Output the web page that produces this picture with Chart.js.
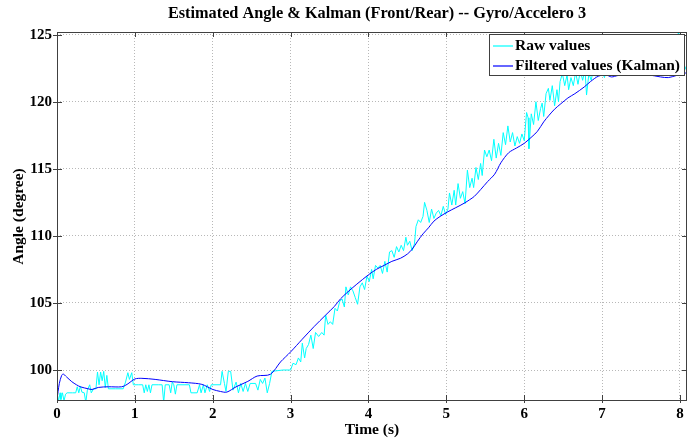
<!DOCTYPE html>
<html>
<head>
<meta charset="utf-8">
<script src="https://cdn.jsdelivr.net/npm/chart.js@4.4.0/dist/chart.umd.min.js"></script>
<style>
html,body{margin:0;padding:0;background:#fff;}
</style>
</head>
<body>
<canvas id="canvas" width="688" height="441"></canvas>
<script>
// valores (tempo em s, angulo em graus)
var rawTime = [0.00,0.02,0.04,0.05,0.07,0.09,0.11,0.13,0.20,0.24,0.26,0.28,0.30,0.32,0.35,0.37,0.39,0.42,0.44,0.47,
  0.50,0.52,0.54,0.56,0.58,0.60,0.62,0.64,0.66,0.75,0.85,0.88,0.91,0.93,0.96,0.98,1.05,1.10,1.12,1.14,
  1.16,1.18,1.20,1.22,1.30,1.35,1.37,1.39,1.44,1.46,1.48,1.50,1.52,1.54,1.70,1.72,1.80,1.83,1.85,1.88,
  1.90,1.93,1.96,1.98,2.10,2.12,2.15,2.17,2.20,2.23,2.26,2.30,2.33,2.36,2.39,2.42,2.45,2.48,2.55,2.58,
  2.61,2.64,2.67,2.70,2.73,2.76,2.90,3.00,3.03,3.07,3.10,3.13,3.15,3.18,3.20,3.23,3.26,3.29,3.32,3.36,
  3.40,3.43,3.45,3.48,3.51,3.54,3.57,3.60,3.63,3.66,3.69,3.71,3.74,3.77,3.80,3.83,3.86,3.89,3.92,3.95,
  3.98,4.01,4.04,4.06,4.09,4.12,4.15,4.18,4.21,4.24,4.27,4.30,4.33,4.36,4.39,4.42,4.45,4.48,4.50,4.53,
  4.56,4.59,4.61,4.64,4.67,4.70,4.72,4.75,4.78,4.81,4.84,4.87,4.90,4.93,4.96,4.99,5.02,5.04,5.07,5.10,
  5.12,5.15,5.18,5.21,5.24,5.27,5.30,5.33,5.35,5.38,5.41,5.44,5.46,5.49,5.52,5.55,5.58,5.61,5.64,5.67,
  5.70,5.73,5.76,5.79,5.82,5.85,5.88,5.91,5.94,5.97,6.00,6.03,6.05,6.06,6.09,6.12,6.15,6.18,6.21,6.23,
  6.25,6.28,6.31,6.33,6.36,6.39,6.42,6.44,6.46,6.49,6.52,6.55,6.57,6.60,6.63,6.66,6.69,6.72,6.75,6.78,
  6.80,6.83,6.86,6.89,6.92,6.95,6.98,7.00,7.03,7.06,7.10,7.14,7.18,7.22,7.26,7.30,7.34,7.38,7.42,7.46,
  7.50,7.54,7.58,7.62,7.66,7.70,7.74,7.78,7.82,7.86,7.90,7.94,7.97,7.98,8.00,8.04,8.08,8.10];
var rawAngle = [98.3,97.7,98.3,97.8,98.3,97.7,98.2,98.3,98.3,98.3,98.75,98.3,98.8,98.35,98.3,97.6,98.5,98.9,98.3,98.6,
  98.6,99.85,98.9,99.85,99.2,99.9,98.7,99.6,98.6,98.6,98.6,99.1,99.8,99.3,99.8,98.9,98.9,98.9,98.3,98.9,
  98.4,98.9,98.3,98.9,98.9,98.9,97.6,98.9,98.9,98.3,99.1,98.9,98.2,98.9,98.9,98.3,98.3,98.9,98.3,98.9,
  98.3,98.9,98.4,98.9,98.9,99.9,99.0,98.4,99.9,99.9,98.5,99.1,98.3,99.0,98.4,99.0,98.4,99.0,99.0,98.5,
  99.3,99.0,99.4,98.3,99.0,99.9,100.0,100.0,100.5,100.4,100.9,100.6,102.0,100.9,101.6,101.9,102.6,101.6,102.8,102.5,
  102.8,102.6,104.1,103.4,103.6,103.4,104.6,104.4,105.1,105.3,104.7,106.2,105.6,106.2,105.9,105.4,104.9,106.2,106.5,106.0,
  107.0,106.6,107.5,106.8,107.8,107.6,107.8,107.2,108.1,107.3,108.8,108.9,108.4,109.2,108.8,109.3,108.9,109.9,109.3,109.6,
  108.9,109.4,110.7,111.2,111.0,111.45,112.5,111.9,111.0,112.0,111.3,111.7,111.9,111.5,112.2,111.6,112.0,113.2,112.3,113.4,
  112.3,113.9,112.8,113.3,112.4,114.9,113.6,114.3,113.6,115.1,114.2,115.4,114.5,116.4,115.9,116.4,115.6,117.2,115.8,116.9,
  116.0,117.7,116.8,118.2,117.0,117.7,116.7,117.4,116.9,117.6,117.1,119.2,118.8,116.5,119.1,118.3,120.0,118.6,119.5,119.9,
  118.9,120.6,121.0,120.1,121.2,119.7,120.9,120.0,121.5,122.1,121.2,122.0,120.9,121.8,121.2,122.2,121.3,122.3,121.6,122.4,
  120.5,122.1,121.6,122.5,121.9,122.6,122.2,122.3,121.8,122.6,122.2,122.9,122.4,123.1,122.5,122.9,122.3,123.0,122.4,122.8,
  122.2,122.9,122.3,122.7,122.1,122.6,122.2,122.8,122.3,122.7,122.2,122.8,122.4,126.0,122.5,122.9,122.4,122.7];

var kalTime = [0.00,0.03,0.06,0.08,0.12,0.19,0.25,0.30,0.40,0.45,0.53,0.66,0.83,0.90,1.00,1.09,1.26,1.48,1.69,1.86,
  2.00,2.10,2.18,2.30,2.45,2.57,2.74,2.87,3.00,3.15,3.30,3.45,3.56,3.64,3.73,3.85,4.00,4.10,4.20,4.30,
  4.41,4.50,4.56,4.63,4.70,4.77,4.84,4.92,5.02,5.12,5.23,5.30,5.36,5.44,5.53,5.62,5.70,5.80,5.90,6.00,
  6.10,6.17,6.25,6.32,6.39,6.47,6.56,6.65,6.77,6.85,6.95,7.05,7.12,7.20,7.30,7.45,7.60,7.75,7.85,7.95,
  8.05,8.10];
var kalAngle = [97.8,99.0,99.6,99.7,99.5,99.13,98.9,98.75,98.6,98.55,98.7,98.75,98.75,98.93,99.33,99.38,99.3,99.13,99.05,98.93,
  98.55,98.4,98.35,98.75,99.15,99.55,99.68,100.6,101.35,102.3,103.23,104.1,104.73,105.3,105.8,106.4,107.1,107.5,107.8,108.1,
  108.33,108.65,109.0,109.6,110.15,110.6,111.1,111.45,111.8,112.1,112.44,112.7,112.95,113.45,114.05,114.6,115.45,116.2,116.55,116.9,
  117.4,117.8,118.5,119.0,119.45,119.85,120.28,120.6,121.1,121.5,121.9,122.0,121.85,121.95,122.0,122.05,122.0,121.85,121.8,121.95,
  122.1,122.2];

var xTicks = [0,1,2,3,4,5,6,7,8];
var yTicks = [100,105,110,115,120,125];
var nomes = ['Raw values','Filtered values (Kalman)'];
var cores = ['#00ffff','#0000ff'];
var titulo = 'Estimated Angle & Kalman (Front/Rear) -- Gyro/Accelero 3';

var fam = '"Liberation Serif","Times New Roman",serif';

function montaPontos(tempos, valores){
  var pts = [];
  for (let i = 0; i < tempos.length; i++){
    pts.push({x: tempos[i], y: valores[i]});
  }
  return pts;
}

// caixa, ticks internos, titulo e legenda desenhados por cima
var caixaPlugin = {
  id: 'caixa',
  afterDraw: function(chart){
    var ctx = chart.ctx;
    var a = chart.chartArea;
    var sx = chart.scales.x, sy = chart.scales.y;
    ctx.save();
    ctx.strokeStyle = '#404040';
    ctx.lineWidth = 1;
    ctx.beginPath();
    for (let v of xTicks){
      var px = Math.round(sx.getPixelForValue(v)) + 0.5;
      ctx.moveTo(px, a.bottom + 2); ctx.lineTo(px, a.bottom - 6);
      ctx.moveTo(px, a.top); ctx.lineTo(px, a.top + 5);
    }
    for (let v of yTicks){
      var py = Math.round(sy.getPixelForValue(v)) + 0.5;
      ctx.moveTo(a.left - 4, py); ctx.lineTo(a.left + 5, py);
      ctx.moveTo(a.right, py); ctx.lineTo(a.right - 5, py);
    }
    ctx.stroke();
    ctx.strokeRect(a.left + 0.5, a.top + 0.5, a.right - a.left - 1, a.bottom - a.top - 1);

    // titulo sobre o eixo
    ctx.fillStyle = '#000';
    ctx.font = 'bold 16.3px ' + fam;
    ctx.textAlign = 'center';
    ctx.textBaseline = 'middle';
    ctx.fillText(titulo, (a.left + a.right) / 2 + 5, 14);

    // legenda
    ctx.font = 'bold 15.5px ' + fam;
    var larg = 0;
    for (let n of nomes){ larg = Math.max(larg, ctx.measureText(n).width); }
    var lw = Math.round(larg + 30), lh = 41;
    var lx = Math.round(a.right - 3 - lw), ly = Math.round(a.top + 2);
    ctx.fillStyle = '#fff';
    ctx.fillRect(lx, ly, lw, lh);
    ctx.strokeStyle = '#404040';
    ctx.strokeRect(lx + 0.5, ly + 0.5, lw, lh);
    var amostra = ['#66ffff','#6666ff'];
    ctx.textAlign = 'left';
    for (let i = 0; i < nomes.length; i++){
      var yy = ly + 12 + i * 20;
      ctx.strokeStyle = amostra[i];
      ctx.lineWidth = 2;
      ctx.beginPath();
      ctx.moveTo(lx + 4, yy); ctx.lineTo(lx + 24, yy);
      ctx.stroke();
      ctx.fillStyle = '#000';
      ctx.fillText(nomes[i], lx + 26, yy);
    }
    ctx.restore();
  }
};

var fonteEixo = {family: fam, size: 15, weight: 'bold'};

var ctx = document.getElementById('canvas').getContext('2d');
window.grafico = new Chart(ctx, {
  type: 'line',
  data: {
    datasets: [{
      label: nomes[0],
      data: montaPontos(rawTime, rawAngle),
      borderColor: cores[0],
      borderWidth: 1,
      pointRadius: 0,
      tension: 0,
      order: 2
    }, {
      label: nomes[1],
      data: montaPontos(kalTime, kalAngle),
      borderColor: cores[1],
      borderWidth: 1,
      pointRadius: 0,
      tension: 0.3,
      order: 1
    }]
  },
  options: {
    responsive: false,
    animation: false,
    layout: {padding: {top: 32, right: 1, left: 0, bottom: 0}},
    plugins: {
      legend: {display: false},
      title: {display: false},
      tooltip: {enabled: false}
    },
    scales: {
      x: {
        type: 'linear',
        min: 0,
        max: 8.09,
        afterBuildTicks: function(s){ s.ticks = xTicks.map(v => ({value: v})); },
        afterFit: function(s){ s.height = 40; },
        grid: {color: '#b8b8b8', drawTicks: false},
        border: {display: false, dash: [1, 2]},
        ticks: {color: '#000', font: fonteEixo, padding: 4, maxRotation: 0},
        title: {display: true, text: 'Time (s)', color: '#000', font: {family: fam, size: 15.5, weight: 'bold'}, padding: {top: 0, bottom: 2}}
      },
      y: {
        type: 'linear',
        min: 97.69,
        max: 125.2,
        afterBuildTicks: function(s){ s.ticks = yTicks.map(v => ({value: v})); },
        afterFit: function(s){ s.width = 57; },
        grid: {color: '#b8b8b8', drawTicks: false},
        border: {display: false, dash: [1, 2]},
        ticks: {color: '#000', font: fonteEixo, padding: 5},
        title: {display: true, text: 'Angle (degree)', color: '#000', font: {family: fam, size: 15.5, weight: 'bold'}, padding: {top: 10, bottom: 0}}
      }
    }
  },
  plugins: [caixaPlugin]
});
</script>
</body>
</html>
